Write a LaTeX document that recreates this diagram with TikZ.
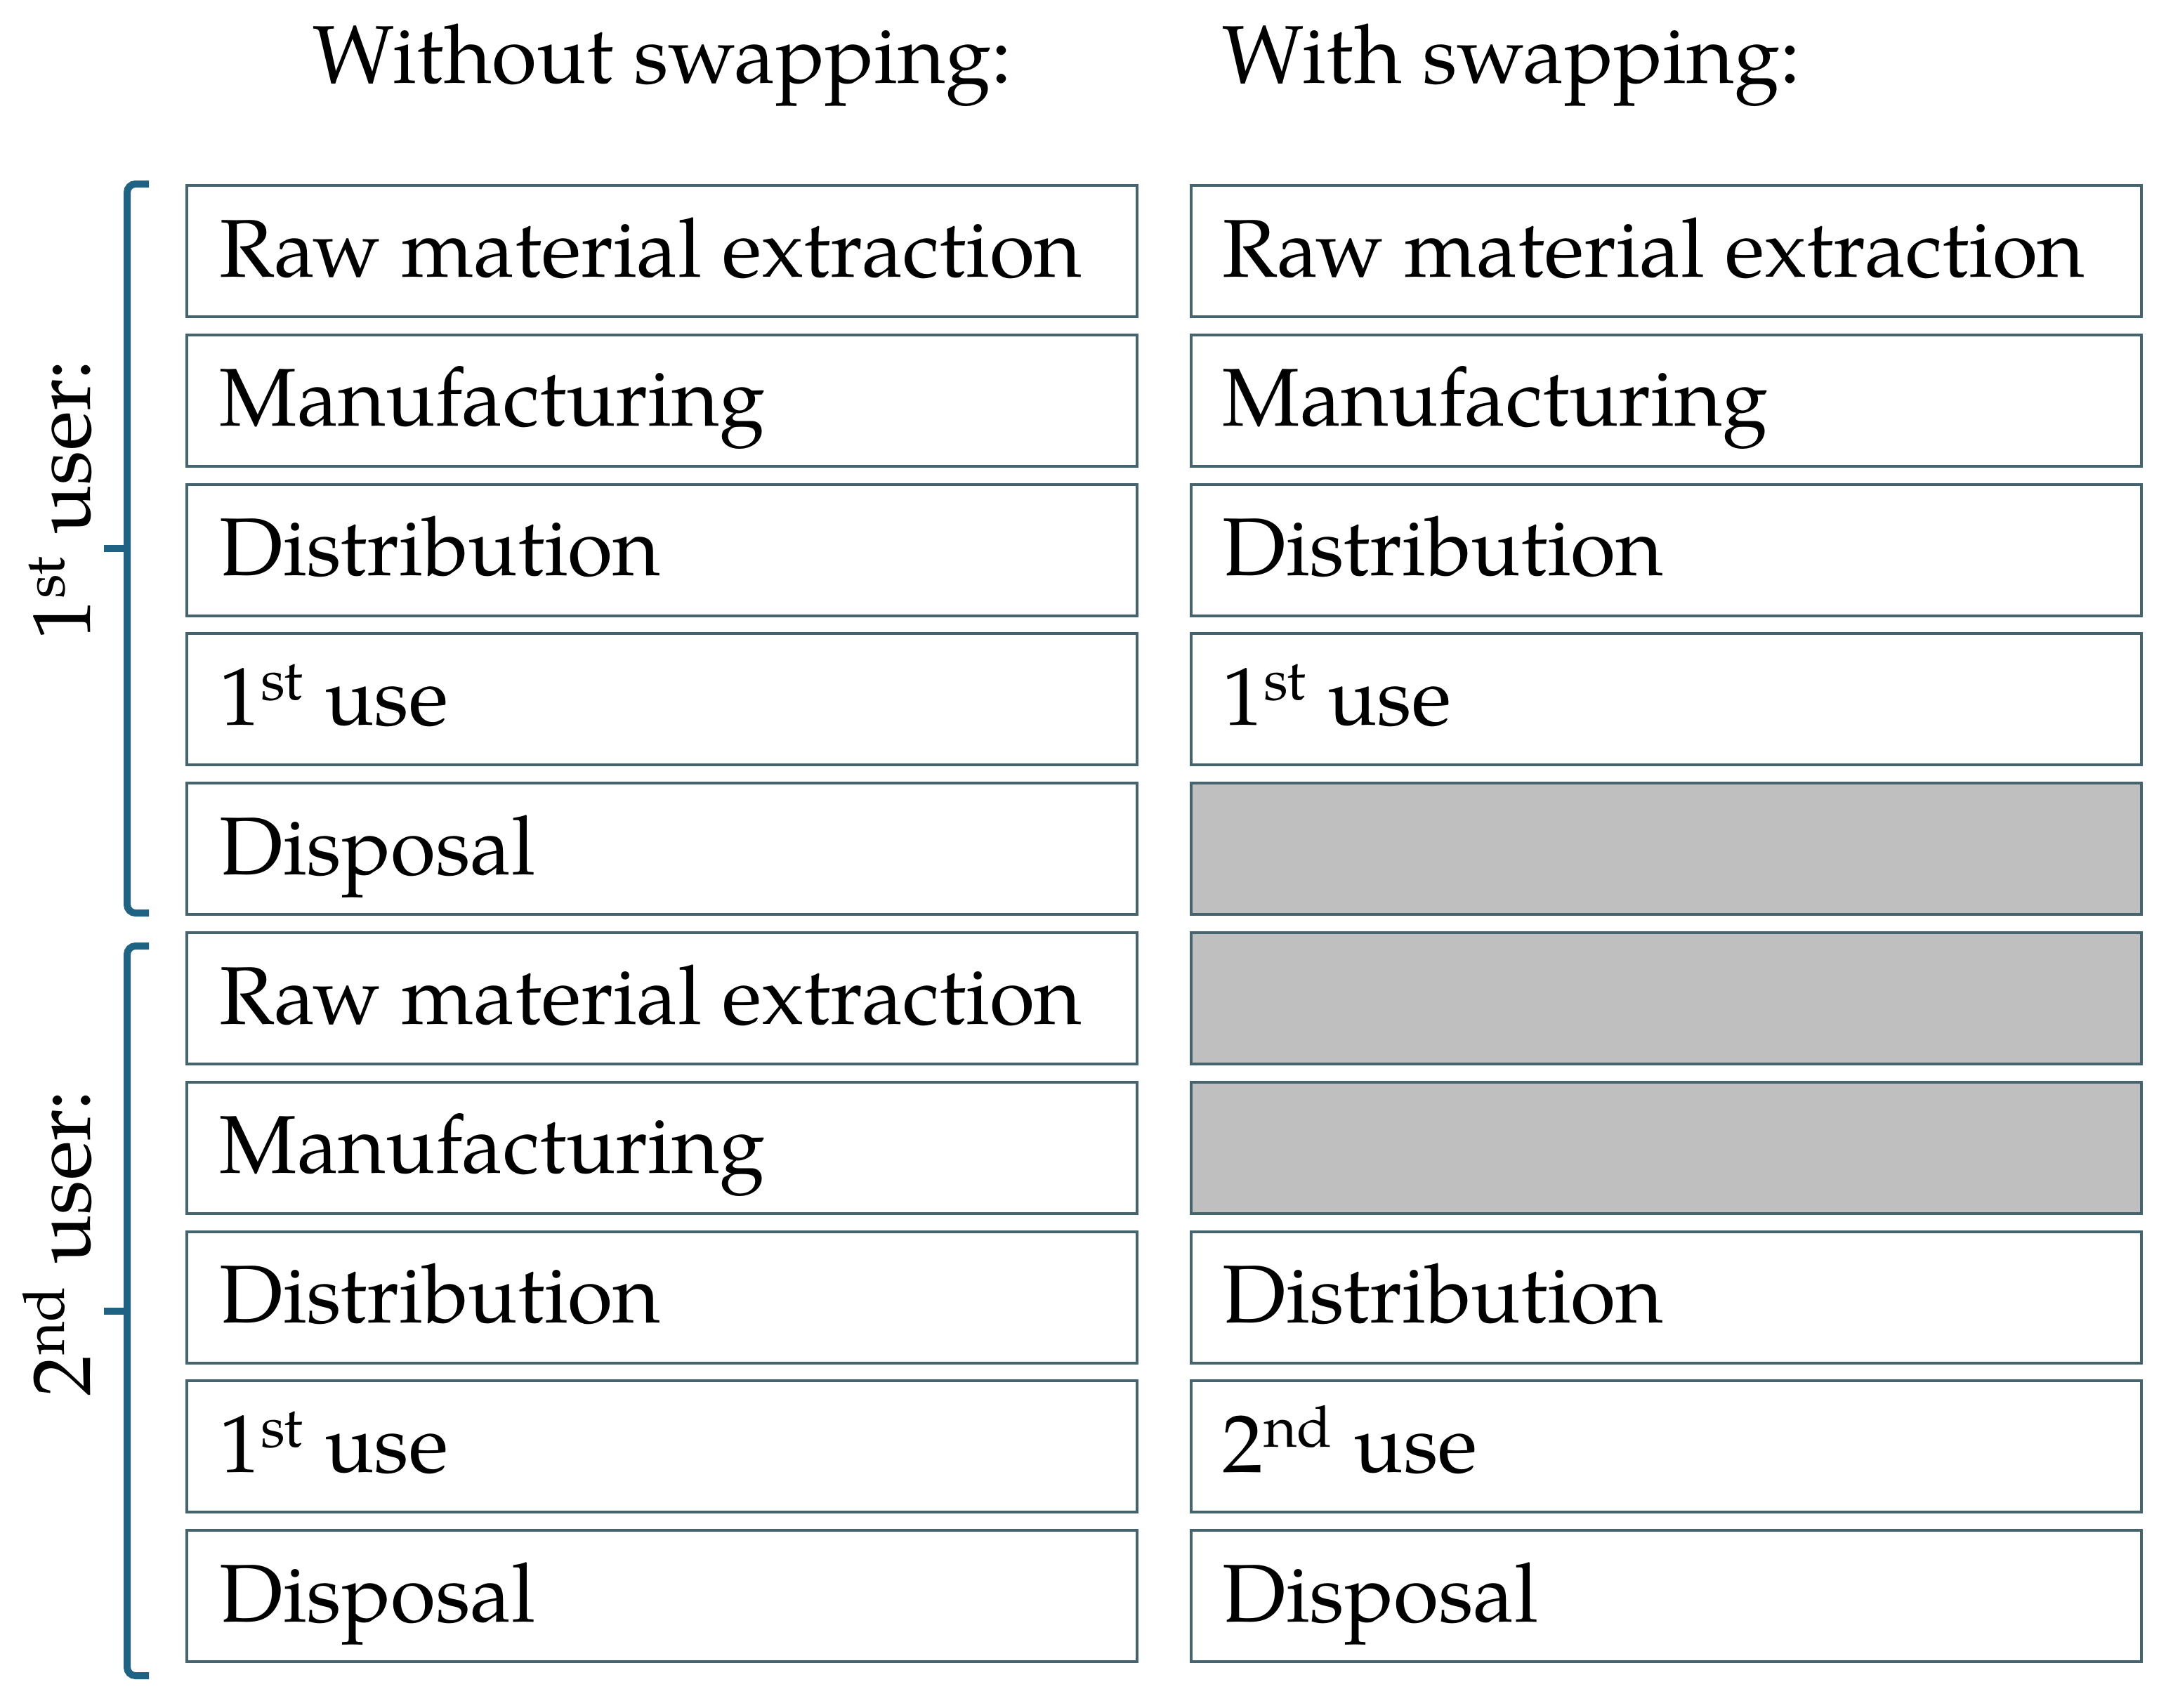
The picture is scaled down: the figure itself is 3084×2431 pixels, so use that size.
\documentclass[tikz,border=0pt]{standalone}
\usepackage{fontspec}
\setmainfont{TeX Gyre Pagella}
\definecolor{boxline}{HTML}{46646E}
\definecolor{bracec}{HTML}{1F6384}
\definecolor{greyfill}{HTML}{BFBFBF}
\tikzset{
  stage/.style={draw=boxline, line width=1pt, minimum width=338.25pt, minimum height=46.75pt, anchor=north west, inner sep=0pt},
  blank/.style={stage, fill=greyfill},
  lbl/.style={anchor=base west, inner sep=0pt, font=\fontsize{29.2}{35}\selectfont},
  head/.style={inner sep=0pt, font=\fontsize{29.2}{35}\selectfont},
  brk/.style={draw=bracec, line width=2.5pt, rounded corners=3pt},
}
\begin{document}
\begin{tikzpicture}[x=0.25pt,y=-0.25pt]
\useasboundingbox (0,0) rectangle (3084,2431);
% headers
\node[head, anchor=base] (h1) at (943,118) {Without swapping:};
\node[head, anchor=base west] (h2) at (1740,118) {With swapping:};
% left column
\foreach \i/\t in {0/Raw material extraction,1/Manufacturing,2/Distribution,3/1\textsuperscript{st} use,4/Disposal,5/Raw material extraction,6/Manufacturing,7/Distribution,8/1\textsuperscript{st} use,9/Disposal}{
  \node[stage] (L\i) at (264,{262+212.8*\i}) {};
  \node[lbl] (LT\i) at (312,{262+212.8*\i+132}) {\t};
}
% right column
\foreach \i/\t in {0/Raw material extraction,1/Manufacturing,2/Distribution,3/1\textsuperscript{st} use,7/Distribution,8/2\textsuperscript{nd} use,9/Disposal}{
  \node[stage] (R\i) at (1694,{262+212.8*\i}) {};
  \node[lbl] (RT\i) at (1740,{262+212.8*\i+132}) {\t};
}
\foreach \i in {4,5,6}{
  \node[blank] (R\i) at (1694,{262+212.8*\i}) {};
}
% braces
\coordinate (b1t) at (212,262);
\coordinate (b1b) at (212,1300);
\coordinate (b1m) at (181,781);
\coordinate (b1k) at (148,781);
\draw[brk] (b1t) -- (181,262) -- (181,1300) -- (b1b);
\draw[draw=bracec, line width=2.5pt] (b1m) -- (b1k);
\coordinate (b2t) at (212,1347);
\coordinate (b2b) at (212,2386);
\coordinate (b2m) at (181,1867);
\coordinate (b2k) at (148,1867);
\draw[brk] (b2t) -- (181,1347) -- (181,2386) -- (b2b);
\draw[draw=bracec, line width=2.5pt] (b2m) -- (b2k);
% side labels
\node[head, anchor=base, rotate=90] (u1) at (128,712) {1\textsuperscript{st} user:};
\node[head, anchor=base, rotate=90] (u2) at (128,1770) {2\textsuperscript{nd} user:};
\end{tikzpicture}
\end{document}
